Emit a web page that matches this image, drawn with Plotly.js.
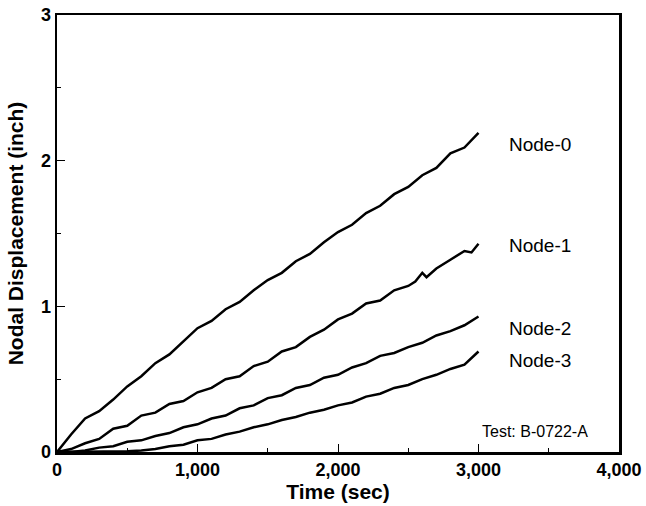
<!DOCTYPE html>
<html>
<head>
<meta charset="utf-8">
<script src="https://cdn.plot.ly/plotly-3.0.1.min.js"></script>
<style>html,body{margin:0;padding:0;background:#fff;}#chart{width:646px;height:506px;}</style>
</head>
<body>
<div id="chart"></div>
<script>
const timeSec = [0,100,200,300,400,500,600,700,800,900,1000,1100,1200,1300,1400,1500,1600,1700,1800,1900,2000,2100,2200,2300,2400,2500,2600,2700,2800,2900,3000];
const node0 = [0,0.12,0.23,0.28,0.36,0.45,0.52,0.61,0.67,0.76,0.85,0.90,0.98,1.03,1.11,1.18,1.23,1.31,1.36,1.44,1.51,1.56,1.64,1.69,1.77,1.82,1.90,1.95,2.05,2.09,2.19];
const time1 = [0,100,200,300,400,500,600,700,800,900,1000,1100,1200,1300,1400,1500,1600,1700,1800,1900,2000,2100,2200,2300,2400,2500,2550,2600,2630,2700,2800,2900,2950,3000];
const node1 = [0,0.02,0.06,0.09,0.16,0.18,0.25,0.27,0.33,0.35,0.41,0.44,0.50,0.52,0.59,0.62,0.69,0.72,0.79,0.84,0.91,0.95,1.02,1.04,1.11,1.14,1.17,1.23,1.20,1.26,1.32,1.38,1.37,1.43];
const node2 = [0,0.0,0.01,0.03,0.04,0.07,0.08,0.11,0.13,0.17,0.19,0.23,0.25,0.30,0.32,0.37,0.39,0.44,0.46,0.51,0.53,0.58,0.61,0.66,0.68,0.72,0.75,0.80,0.83,0.87,0.93];
const node3 = [0,0,0,0,0.005,0.005,0.01,0.02,0.04,0.05,0.08,0.09,0.12,0.14,0.17,0.19,0.22,0.24,0.27,0.29,0.32,0.34,0.38,0.40,0.44,0.46,0.50,0.53,0.57,0.60,0.69];
const nodeLabels = ["Node-0","Node-1","Node-2","Node-3"];
const labelY = [2.11,1.42,0.85,0.63];
const testLabel = "Test: B-0722-A";

const lineStyle = {color:'#000', width:2.5};
const traces = [
  {x:timeSec, y:node0, mode:'lines', line:lineStyle, name:nodeLabels[0]},
  {x:time1, y:node1, mode:'lines', line:lineStyle, name:nodeLabels[1]},
  {x:timeSec, y:node2, mode:'lines', line:lineStyle, name:nodeLabels[2]},
  {x:timeSec, y:node3, mode:'lines', line:lineStyle, name:nodeLabels[3]}
];
const annFont = {family:'Liberation Sans, Arial, sans-serif', size:19, color:'#000'};
const annotations = nodeLabels.map((t,i)=>({x:3200, y:labelY[i], xref:'x', yref:'y', text:t, showarrow:false, xanchor:'left', yanchor:'middle', font:annFont}));
annotations.push({x:3790, y:0.14, xref:'x', yref:'y', text:testLabel, showarrow:false, xanchor:'right', yanchor:'middle', font:{family:'Liberation Sans, Arial, sans-serif', size:16, color:'#000'}});

const tickFont = {family:'Liberation Sans, Arial, sans-serif', size:18, color:'#000', weight:'bold'};
const titleFont = {family:'Liberation Sans, Arial, sans-serif', size:21, color:'#000', weight:'bold'};
const layout = {
  width:646, height:506,
  margin:{l:57, r:27, t:15, b:54},
  paper_bgcolor:'#fff', plot_bgcolor:'#fff',
  showlegend:false,
  xaxis:{range:[0,4000], tickvals:[0,1000,2000,3000,4000], ticktext:['0','1,000','2,000','3,000','4,000'],
    showgrid:false, zeroline:false, showline:true, mirror:true, linecolor:'#000', linewidth:2.5,
    ticks:'inside', ticklen:8, tickwidth:1, tickcolor:'#000',
    minor:{dtick:500, ticks:'inside', ticklen:4, tickcolor:'#000', showgrid:false},
    tickfont:tickFont, title:{text:'Time (sec)', font:titleFont, standoff:4}},
  yaxis:{range:[0,3], tickvals:[0,1,2,3], showgrid:false, zeroline:false, showline:true, mirror:true, linecolor:'#000', linewidth:2.5,
    ticks:'inside', ticklen:8, tickwidth:1, tickcolor:'#000',
    minor:{dtick:0.5, ticks:'inside', ticklen:4, tickcolor:'#000', showgrid:false},
    tickfont:tickFont, title:{text:'Nodal Displacement (inch)', font:titleFont, standoff:12}},
  annotations:annotations
};
Plotly.newPlot('chart', traces, layout, {staticPlot:true, displayModeBar:false});
</script>
</body>
</html>
